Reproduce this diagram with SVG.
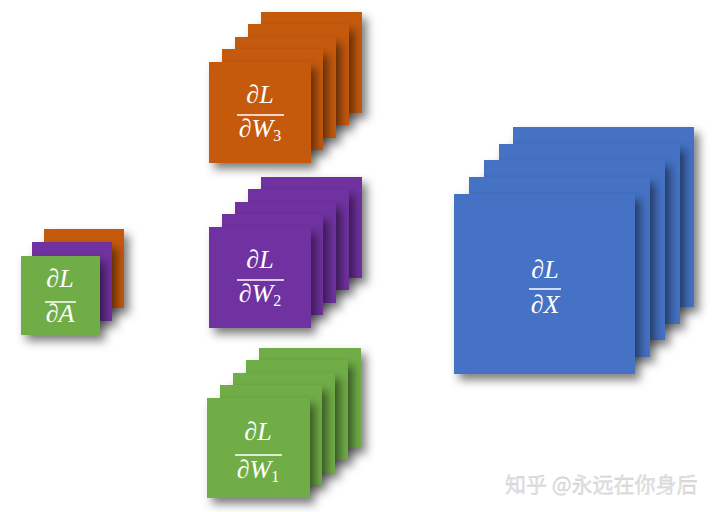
<svg xmlns="http://www.w3.org/2000/svg" width="720" height="512" viewBox="0 0 720 512">
<defs>
<filter id="sh" x="-20%" y="-20%" width="160%" height="160%">
<feDropShadow dx="5" dy="6" stdDeviation="5" flood-color="#000" flood-opacity="0.5"/>
</filter>
</defs>
<style>
.o{fill:#C55A11;filter:url(#sh)}
.p{fill:#7030A0;filter:url(#sh)}
.g{fill:#70AD47;filter:url(#sh)}
.b{fill:#4472C4;filter:url(#sh)}
.t{font-family:"Liberation Serif","DejaVu Serif",serif;font-style:italic;font-size:26px;fill:#fff;text-anchor:middle}
.s{font-style:normal;font-size:16px}
.ln{stroke:#fff;stroke-width:1.5}
.wm{font-family:"Noto Sans CJK SC",sans-serif;font-size:21px;fill:#e2e2e2;stroke:#c8c8c8;stroke-width:0.3}
</style>
<rect width="720" height="512" fill="#fff"/>
<g id="dA">
<rect class="o" x="44" y="229" width="80" height="79"/>
<rect class="p" x="32" y="242" width="80" height="79"/>
<rect class="g" x="21" y="256" width="79" height="79"/>
<text class="t" x="60" y="287">∂L</text>
<line class="ln" x1="45" y1="302" x2="76" y2="302"/>
<text class="t" x="60" y="322">∂A</text>
</g>
<g id="dW3">
<rect class="o" x="261" y="12" width="101" height="101"/>
<rect class="o" x="248" y="24" width="101" height="101"/>
<rect class="o" x="235" y="37" width="101" height="101"/>
<rect class="o" x="222" y="49" width="101" height="101"/>
<rect class="o" x="209" y="62" width="102" height="101"/>
<text class="t" x="260" y="103">∂L</text>
<line class="ln" x1="237" y1="115" x2="284" y2="115"/>
<text class="t" x="260" y="137">∂W<tspan class="s" dy="4">3</tspan></text>
</g>
<g id="dW2">
<rect class="p" x="261" y="177" width="101" height="101"/>
<rect class="p" x="248" y="189" width="101" height="101"/>
<rect class="p" x="235" y="202" width="101" height="101"/>
<rect class="p" x="222" y="214" width="101" height="101"/>
<rect class="p" x="209" y="227" width="102" height="101"/>
<text class="t" x="260" y="268">∂L</text>
<line class="ln" x1="237" y1="280" x2="284" y2="280"/>
<text class="t" x="260" y="302">∂W<tspan class="s" dy="4">2</tspan></text>
</g>
<g id="dW1">
<rect class="g" x="259" y="348" width="102" height="100"/>
<rect class="g" x="246" y="360" width="102" height="100"/>
<rect class="g" x="233" y="373" width="102" height="100"/>
<rect class="g" x="220" y="385" width="102" height="100"/>
<rect class="g" x="207" y="398" width="103" height="100"/>
<text class="t" x="258" y="440">∂L</text>
<line class="ln" x1="235" y1="455" x2="282" y2="455"/>
<text class="t" x="258" y="478">∂W<tspan class="s" dy="4">1</tspan></text>
</g>
<g id="dX">
<rect class="b" x="513" y="127" width="181" height="180"/>
<rect class="b" x="499" y="144" width="181" height="180"/>
<rect class="b" x="484" y="160" width="181" height="180"/>
<rect class="b" x="469" y="177" width="181" height="180"/>
<rect class="b" x="454" y="194" width="181" height="180"/>
<text class="t" x="545" y="278">∂L</text>
<line class="ln" x1="529" y1="289" x2="561" y2="289"/>
<text class="t" x="545" y="313">∂X</text>
</g>
<g id="connectors"/>
<text class="wm" x="505" y="492">知乎 @永远在你身后</text>
</svg>
